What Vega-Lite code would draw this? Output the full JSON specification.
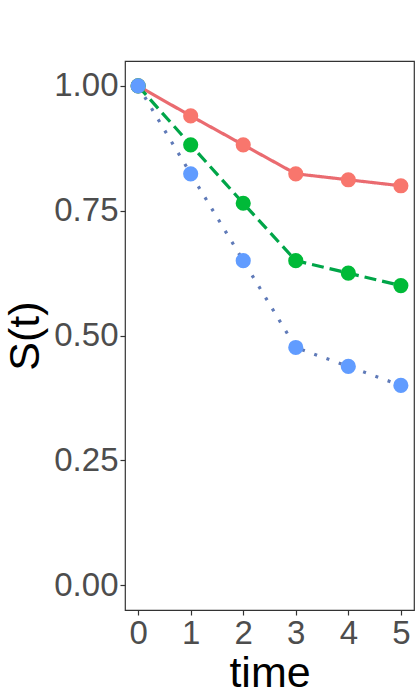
{
  "$schema": "https://vega.github.io/schema/vega-lite/v6.json",
  "width": 289,
  "height": 549,
  "autosize": "none",
  "padding": {"left": 125, "top": 61, "right": 6, "bottom": 90},
  "background": "white",
  "config": {
    "view": {"stroke": "#333333", "strokeWidth": 1.2},
    "axis": {
      "grid": false,
      "domain": false,
      "tickColor": "#333333",
      "tickSize": 5,
      "tickWidth": 1.2,
      "labelColor": "#4D4D4D",
      "labelFont": "Liberation Sans",
      "labelFontSize": 33,
      "labelPadding": 2,
      "titleFont": "Liberation Sans",
      "titleFontSize": 43,
      "titleFontWeight": "normal",
      "titleColor": "black"
    }
  },
  "data": {
    "values": [
      {"time": 0, "S": 1.0, "group": "A"},
      {"time": 1, "S": 0.94, "group": "A"},
      {"time": 2, "S": 0.882, "group": "A"},
      {"time": 3, "S": 0.824, "group": "A"},
      {"time": 4, "S": 0.812, "group": "A"},
      {"time": 5, "S": 0.8, "group": "A"},
      {"time": 0, "S": 1.0, "group": "B"},
      {"time": 1, "S": 0.882, "group": "B"},
      {"time": 2, "S": 0.765, "group": "B"},
      {"time": 3, "S": 0.65, "group": "B"},
      {"time": 4, "S": 0.625, "group": "B"},
      {"time": 5, "S": 0.6, "group": "B"},
      {"time": 0, "S": 1.0, "group": "C"},
      {"time": 1, "S": 0.824, "group": "C"},
      {"time": 2, "S": 0.65, "group": "C"},
      {"time": 3, "S": 0.476, "group": "C"},
      {"time": 4, "S": 0.438, "group": "C"},
      {"time": 5, "S": 0.4, "group": "C"}
    ]
  },
  "encoding": {
    "x": {
      "field": "time",
      "type": "quantitative",
      "scale": {"domain": [-0.25, 5.25], "nice": false, "zero": false},
      "axis": {"values": [0, 1, 2, 3, 4, 5], "format": "d", "title": "time", "titleY": 76, "titleBaseline": "alphabetic"}
    },
    "y": {
      "field": "S",
      "type": "quantitative",
      "scale": {"domain": [-0.05, 1.05], "nice": false, "zero": false},
      "axis": {"values": [0, 0.25, 0.5, 0.75, 1], "format": ".2f", "title": "S(t)", "titleX": -100, "titleBaseline": "middle"}
    }
  },
  "layer": [
    {
      "mark": {"type": "line", "strokeWidth": 3.2},
      "encoding": {
        "color": {"field": "group", "type": "nominal", "scale": {"domain": ["A", "B", "C"], "range": ["#EA6B70", "#00A548", "#5F7AB8"]}, "legend": null},
        "strokeDash": {"field": "group", "type": "nominal", "scale": {"domain": ["A", "B", "C"], "range": [[1, 0], [12, 6], [3, 10]]}, "legend": null}
      }
    },
    {
      "mark": {"type": "circle", "size": 230, "opacity": 1},
      "encoding": {
        "color": {"field": "group", "type": "nominal", "scale": {"domain": ["A", "B", "C"], "range": ["#F8766D", "#00BA38", "#619CFF"]}, "legend": null}
      }
    }
  ],
  "resolve": {"scale": {"color": "independent"}}
}
